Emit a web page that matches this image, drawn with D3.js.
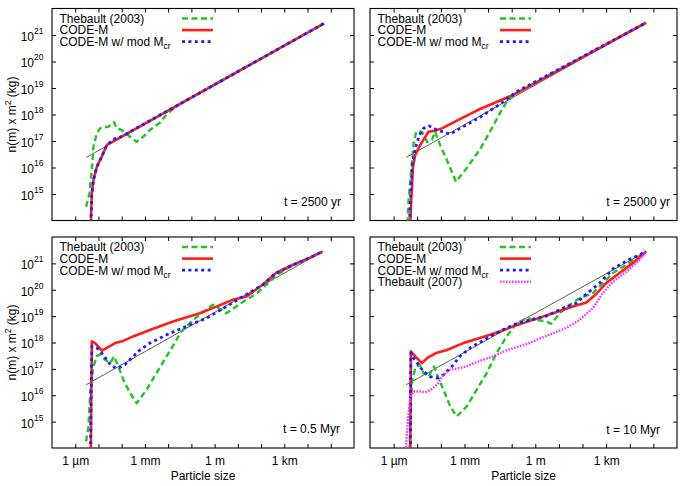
<!DOCTYPE html>
<html><head><meta charset="utf-8">
<script src="https://cdn.jsdelivr.net/npm/d3@7"></script>
<style>
body{margin:0;background:#fff}
svg{display:block}
text{font-family:"Liberation Sans",Arial,Helvetica,sans-serif;fill:#000}
</style>
</head><body>
<svg id="c" width="686" height="486"></svg>
<script>
// ---------------- DATA (particle size in m, n(m) x m^2 in kg) ----------------
const sizeDomain = [1e-7, 1e6];
const nDomain = [1e14, 1e22];
const xTickValues = [1e-6,1e-5,1e-4,1e-3,1e-2,1e-1,1,10,100,1e3,1e4,1e5];
const xLabelValues = [1e-6,1e-3,1,1e3];
const xLabels = ["1 µm","1 mm","1 m","1 km"];
const yTickValues = [1e15,1e16,1e17,1e18,1e19,1e20,1e21];
const yTickExponents = ["15","16","17","18","19","20","21"];
const timeLabels = ["t = 2500 yr","t = 25000 yr","t = 0.5 Myr","t = 10 Myr"];
const legendLabels = ["Thebault (2003)","CODE-M","CODE-M w/ mod M","Thebault (2007)"];
const xTitle = "Particle size";

// t = 2500 yr
const t2500_thebault03 = [[2.95e-6,3.3e14],[4.1e-6,1.07e15],[5.2e-6,8.1e15],[6.1e-6,6.2e16],[8.5e-6,1.95e17],[1.17e-5,3.0e17],[2.7e-5,3.5e17],[4.7e-5,5.1e17],[6.1e-5,3.0e17],[1e-4,2.6e17],[2.3e-4,1.45e17],[4.4e-4,9.3e16],[8.4e-4,1.45e17],[1.63e-3,2.6e17],[4.4e-3,4.9e17],[8.5e-3,1.0e18],[2.5e-2,2.24e18],[5.2e4,2.75e21]];
const t2500_codeM = [[4.7e-6,7.9e13],[5.2e-6,1.07e15],[6.1e-6,3.4e15],[8.5e-6,1.07e16],[1.39e-5,2.57e16],[2.3e-5,7.1e16],[5.2e4,2.75e21]];
const t2500_codeMmod = [[4.7e-6,7.9e13],[5.2e-6,1.07e15],[6.1e-6,3.4e15],[8.5e-6,1.07e16],[1.39e-5,2.57e16],[2.3e-5,7.1e16],[4.4e-5,1.15e17],[1e-4,1.48e17],[5.2e4,2.75e21]];
const t2500_ref = [[3.0e-6,2.4e16],[5.2e4,2.75e21]];

// t = 25000 yr
const t25000_thebault03 = [[3.9e-6,7.9e13],[4.3e-6,5.9e14],[5.4e-6,6.0e15],[7.0e-6,8.1e16],[9.1e-6,2.24e17],[1.58e-5,2.24e17],[2.6e-5,9.3e16],[4.2e-5,1.1e17],[5.7e-5,2.24e17],[9.3e-5,7.1e16],[1.8e-4,1.9e16],[2.9e-4,6.9e15],[4.4e-4,2.9e15],[1.25e-3,9.5e15],[4.5e-3,4.8e16],[1.2e-2,2.24e17],[3.2e-2,1.12e18],[6.1e-2,3.0e18],[0.161,6.3e18],[4.9e4,2.9e21]];
const t25000_codeM = [[5.1e-6,7.9e13],[5.4e-6,3.3e14],[6.0e-6,1.9e15],[6.6e-6,1.07e16],[8.2e-6,2.95e16],[1.34e-5,7.1e16],[3.0e-5,2.24e17],[5.7e-5,2.45e17],[1.1e-4,3.0e17],[3.3e-3,1.41e18],[0.116,5.5e18],[4.9e4,2.9e21]];
const t25000_codeMmod = [[4.7e-6,7.9e13],[5.4e-6,1.41e15],[6.3e-6,1.45e16],[8.2e-6,5.2e16],[1.25e-5,1.7e17],[1.85e-5,3.0e17],[3.2e-5,3.7e17],[6.8e-5,2.6e17],[1.25e-4,2.2e17],[2.5e-4,1.8e17],[6.5e-4,3.0e17],[5.0e-3,8.3e17],[4.4e-2,3.0e18],[0.161,7.2e18],[4.9e4,2.9e21]];
const t25000_ref = [[3.4e-6,2.4e16],[4.9e4,2.9e21]];

// t = 0.5 Myr
const t05_thebault03 = [[2.95e-6,1.78e14],[3.7e-6,6.6e14],[4.7e-6,2.9e16],[6.1e-6,1.23e17],[8.5e-6,3.0e17],[1.17e-5,3.6e17],[1.93e-5,2.2e17],[3.2e-5,1.66e17],[4.7e-5,3.0e17],[7.2e-5,1.23e17],[1.17e-4,3.9e16],[2.3e-4,1.2e16],[4.4e-4,5.0e15],[1.18e-3,1.62e16],[3.2e-3,7.1e16],[1.63e-2,7.6e17],[3.7e-2,2.6e18],[0.117,7.2e18],[0.44,1.74e19],[0.85,2.7e19],[1.64,1.9e19],[3.2,1.29e19],[8.5,2.3e19],[23,4.2e19],[61,6.9e19],[117,1.17e20],[441,3.4e20],[2270,8.7e20],[1.18e4,1.58e21],[4.4e4,2.8e21]];
const t05_codeM = [[4.7e-6,7.9e13],[4.9e-6,6.8e15],[5.2e-6,1.1e18],[7.2e-6,9.5e17],[1.39e-5,4.9e17],[2.3e-5,6.3e17],[5.2e-5,9.5e17],[1.17e-4,1.15e18],[3.1e-4,1.7e18],[1.63e-3,3.0e18],[1.63e-2,6.3e18],[0.228,1.29e19],[1.18,2.3e19],[6.1,4.2e19],[23,5.5e19],[117,1.55e20],[441,4.3e20],[2270,8.7e20],[1.18e4,1.58e21],[4.4e4,2.8e21]];
const t05_codeMmod = [[4.6e-6,7.9e13],[4.8e-6,6.8e15],[5.2e-6,7.1e17],[8.5e-6,6.2e17],[1.39e-5,4.0e17],[2.3e-5,2.2e17],[3.7e-5,1.23e17],[7.2e-5,1.07e17],[1.39e-4,1.45e17],[2.7e-4,2.6e17],[6.1e-4,5.2e17],[1.63e-3,9.5e17],[8.5e-3,1.95e18],[6.1e-2,4.1e18],[0.44,8.3e18],[3.2,2.3e19],[16.3,5.5e19],[117,1.55e20],[441,4.3e20],[2270,8.7e20],[1.18e4,1.58e21],[4.4e4,2.8e21]];
const t05_ref = [[2.95e-6,2.5e16],[4.4e4,2.8e21]];

// t = 10 Myr
const t10_thebault03 = [[4.7e-6,7.9e13],[5.4e-6,6.8e15],[6.0e-6,2.9e16],[8.2e-6,1.07e17],[1.25e-5,1.45e17],[1.85e-5,6.9e16],[3.0e-5,5.1e16],[5.2e-5,1.23e17],[7.9e-5,4.5e16],[1.29e-4,1.62e16],[2.5e-4,3.8e15],[4.7e-4,1.58e15],[1.25e-3,3.8e15],[3.3e-3,1.62e16],[8.7e-3,6.9e16],[2.3e-2,4.0e17],[6.1e-2,1.7e18],[0.161,5.4e18],[0.43,8.3e18],[1.12,7.2e18],[3.0,6.3e18],[4.8,5.1e18],[10.8,1.29e19],[28.6,2.7e19],[75,4.8e19],[275,7.4e19],[726,1.78e20],[1920,4.3e20],[7050,8.7e20],[4.9e4,2.8e21]];
const t10_codeM = [[5.1e-6,7.9e13],[5.2e-6,6.8e15],[5.4e-6,4.6e17],[8.2e-6,3.0e17],[1.58e-5,1.66e17],[3.0e-5,2.8e17],[6.8e-5,4.1e17],[1.8e-4,5.2e17],[9.0e-4,9.5e17],[4.5e-3,1.48e18],[3.2e-2,2.6e18],[0.116,4.1e18],[0.81,7.2e18],[5.6,1.29e19],[39,2.3e19],[145,3.3e19],[382,6.9e19],[1000,1.78e20],[3670,4.3e20],[1.34e4,1.02e21],[4.9e4,2.8e21]];
const t10_codeMmod = [[5.1e-6,7.9e13],[5.2e-6,6.8e15],[5.4e-6,4.0e17],[7.0e-6,2.6e17],[1.13e-5,1.45e17],[1.85e-5,7.9e16],[3.5e-5,5.1e16],[6.8e-5,4.5e16],[1.29e-4,6.0e16],[2.9e-4,1.23e17],[6.5e-4,3.0e17],[1.72e-3,6.2e17],[6.3e-3,1.2e18],[2.3e-2,2.3e18],[0.116,4.7e18],[0.59,7.2e18],[3.0,1.02e19],[14.9,2.0e19],[55,3.1e19],[145,6.9e19],[527,1.78e20],[1920,6.2e20],[7050,1.23e21],[4.9e4,2.8e21]];
const t10_thebault07 = [[3.3e-6,7.9e13],[3.6e-6,3.2e14],[4.2e-6,1.58e15],[5.1e-6,8.1e15],[7.0e-6,1.38e16],[1.34e-5,1.38e16],[2.2e-5,1.29e16],[3.5e-5,1.55e16],[6.8e-5,2.5e16],[1.29e-4,6.0e16],[2.5e-4,9.3e16],[9.0e-4,1.15e17],[4.5e-3,2.0e17],[1.66e-2,3.0e17],[6.1e-2,5.1e17],[0.43,8.7e17],[3.0,1.78e18],[20.7,3.6e18],[75,7.2e18],[275,2.0e19],[726,7.6e19],[1920,2.0e20],[7050,4.8e20],[2.56e4,1.35e21],[4.9e4,2.75e21]];
const t10_ref = [[3.4e-6,2.5e16],[4.9e4,2.8e21]];

// ---------------- LAYOUT / STYLE ----------------
const panelSeries = [
  {thebault03:t2500_thebault03, codeM:t2500_codeM, codeMmod:t2500_codeMmod, ref:t2500_ref},
  {thebault03:t25000_thebault03, codeM:t25000_codeM, codeMmod:t25000_codeMmod, ref:t25000_ref},
  {thebault03:t05_thebault03, codeM:t05_codeM, codeMmod:t05_codeMmod, ref:t05_ref},
  {thebault03:t10_thebault03, codeM:t10_codeM, codeMmod:t10_codeMmod, thebault07:t10_thebault07, ref:t10_ref}
];
const panelLayout = [
  {x0:52, x1:354, y0:8.5, y1:220.5, left:true,  bottom:false, tx:341, ty:206},
  {x0:370,x1:677, y0:8.5, y1:220.5, left:false, bottom:false, tx:670, ty:206},
  {x0:52, x1:354, y0:237, y1:448,   left:true,  bottom:true,  tx:340, ty:433},
  {x0:370,x1:677, y0:237, y1:448,   left:false, bottom:true,  tx:660, ty:434}
];
const seriesKeys = ["thebault03","codeM","codeMmod","thebault07"];
const seriesStyle = {
  thebault03:{color:"#22c322", width:2.4, dash:"6,3.5"},
  codeM:{color:"#ff1c1c", width:2.6, dash:null},
  codeMmod:{color:"#1c1cff", width:2.8, dash:"3,3.4"},
  thebault07:{color:"#ff30ff", width:2.4, dash:"1.6,1.4"}
};

const svg = d3.select("#c");
const defs = svg.append("defs");

panelLayout.forEach((L, i) => {
  const x = d3.scaleLog().domain(sizeDomain).range([L.x0, L.x1]);
  const y = d3.scaleLog().domain(nDomain).range([L.y1, L.y0]);
  const g = svg.append("g");
  const clipId = "clip" + i;
  defs.append("clipPath").attr("id", clipId).append("rect")
    .attr("x", L.x0).attr("y", L.y0).attr("width", L.x1 - L.x0).attr("height", L.y1 - L.y0);

  // axes (inward ticks on all sides)
  const axB = d3.axisBottom(x).tickValues(xTickValues).tickSizeInner(-4).tickSizeOuter(0).tickPadding(8.5)
    .tickFormat(d => { const j = xLabelValues.indexOf(d); return (L.bottom && j >= 0) ? xLabels[j] : ""; });
  const axT = d3.axisTop(x).tickValues(xTickValues).tickSizeInner(-4).tickSizeOuter(0).tickFormat("");
  const axL = d3.axisLeft(y).tickValues(yTickValues).tickSizeInner(-4).tickSizeOuter(0).tickPadding(8.5)
    .tickFormat(() => L.left ? "10" : "");
  const axR = d3.axisRight(y).tickValues(yTickValues).tickSizeInner(-4).tickSizeOuter(0).tickFormat("");

  const gb = g.append("g").attr("transform", `translate(0,${L.y1})`).call(axB);
  const gt = g.append("g").attr("transform", `translate(0,${L.y0})`).call(axT);
  const gl = g.append("g").attr("transform", `translate(${L.x0},0)`).call(axL);
  const gr = g.append("g").attr("transform", `translate(${L.x1},0)`).call(axR);
  [gb, gt, gl, gr].forEach(a => {
    a.select(".domain").remove();
    a.selectAll(".tick line").attr("stroke", "#000").attr("stroke-width", 1);
    a.selectAll("text").attr("font-family", null).attr("font-size", null);
  });
  gb.selectAll("text").style("font-size", "12px");
  if (L.left) {
    gl.selectAll(".tick text").each(function(d) {
      const j = yTickValues.indexOf(d);
      const t = d3.select(this).text(null).attr("dy", "0.45em").style("font-size", "12px");
      t.append("tspan").text("10");
      t.append("tspan").attr("dy", -7).style("font-size", "8.5px").text(yTickExponents[j]);
    });
  }

  // border
  g.append("rect").attr("x", L.x0).attr("y", L.y0).attr("width", L.x1 - L.x0).attr("height", L.y1 - L.y0)
    .attr("fill", "none").attr("stroke", "#000").attr("stroke-width", 1.1);

  const data = panelSeries[i];
  const line = d3.line().x(d => x(d[0])).y(d => y(d[1])).curve(d3.curveLinear);
  const plot = g.append("g").attr("clip-path", `url(#${clipId})`);

  // reference (slope) line
  plot.append("path").datum(data.ref).attr("d", line)
    .attr("fill", "none").attr("stroke", "#333").attr("stroke-width", 0.8);

  seriesKeys.forEach(k => {
    if (!data[k]) return;
    const s = seriesStyle[k];
    plot.append("path").datum(data[k]).attr("d", line)
      .attr("fill", "none").attr("stroke", s.color).attr("stroke-width", s.width)
      .attr("stroke-dasharray", s.dash).attr("stroke-linejoin", "round");
  });

  // legend
  const lg = g.append("g");
  seriesKeys.forEach((k, j) => {
    if (!data[k]) return;
    const ry = L.y0 + 10 + j * 11.6;
    const t = lg.append("text").attr("x", L.x0 + 7.5).attr("y", ry + 4.3).style("font-size", "12px");
    t.append("tspan").text(legendLabels[j]);
    if (k === "codeMmod") t.append("tspan").attr("dy", 3).style("font-size", "8.5px").text("cr");
    const s = seriesStyle[k];
    lg.append("line").attr("x1", L.x0 + 130).attr("x2", L.x0 + 161).attr("y1", ry).attr("y2", ry)
      .attr("stroke", s.color).attr("stroke-width", s.width).attr("stroke-dasharray", s.dash);
  });

  // time label
  g.append("text").attr("x", L.tx).attr("y", L.ty).attr("text-anchor", "end")
    .style("font-size", "12px").text(timeLabels[i]);

  // axis titles
  if (L.left) {
    const cy = (L.y0 + L.y1) / 2;
    const t = g.append("text").attr("transform", `translate(16,${cy}) rotate(-90)`)
      .attr("text-anchor", "middle").style("font-size", "12px");
    t.append("tspan").text("n(m) x m");
    t.append("tspan").attr("dy", -5).style("font-size", "8.5px").text("2");
    t.append("tspan").attr("dy", 5).text(" (kg)");
  }
  if (L.bottom) {
    g.append("text").attr("x", (L.x0 + L.x1) / 2).attr("y", 479.5).attr("text-anchor", "middle")
      .style("font-size", "12px").text(xTitle);
  }
});
</script>
</body></html>
